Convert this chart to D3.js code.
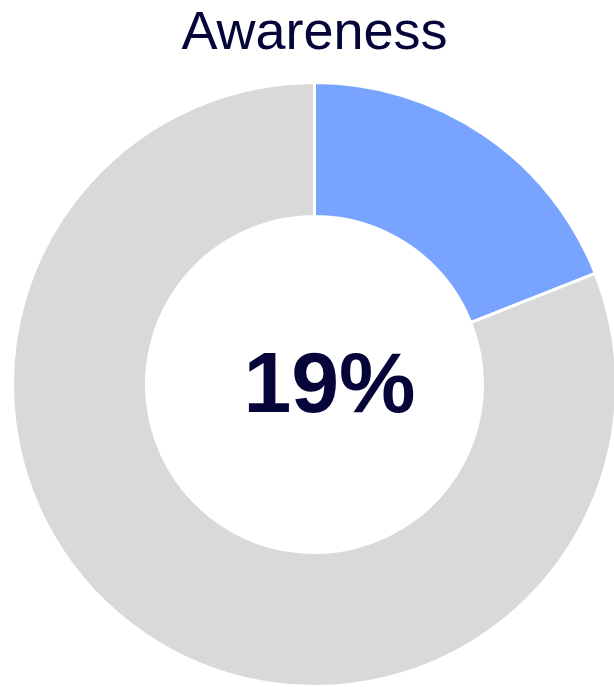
<!DOCTYPE html>
<html>
<head>
<meta charset="utf-8">
<script src="https://cdn.jsdelivr.net/npm/d3@7"></script>
<style>
  html, body { margin: 0; padding: 0; background: #fff; }
  svg { display: block; }
</style>
</head>
<body>
<svg id="chart" width="614" height="687"></svg>
<script>
// Awareness share shown as a donut
const title = "Awareness";
const categories = ["Aware", "Not aware"];
const values = [19, 81];
const colors = ["#78a4ff", "#d9d9d9"];
const centerLabel = "19%";

const svg = d3.select("#chart");
const cx = 314.5, cy = 384.5;
const outerR = 302, innerR = 168;

svg.append("text")
  .attr("x", cx)
  .attr("y", 49)
  .attr("text-anchor", "middle")
  .attr("font-family", "Liberation Sans, Arial, sans-serif")
  .attr("font-size", 54)
  .attr("fill", "#05053a")
  .text(title);

const pie = d3.pie().sort(null).value(d => d.value);
const arc = d3.arc().innerRadius(innerR).outerRadius(outerR);
const data = categories.map((c, i) => ({ name: c, value: values[i] }));

const g = svg.append("g").attr("transform", `translate(${cx},${cy})`);
g.selectAll("path")
  .data(pie(data))
  .join("path")
  .attr("d", arc)
  .attr("fill", (d, i) => colors[i])
  .attr("stroke", "#fff")
  .attr("stroke-width", 3);

// percentage label, set slightly right of centre
svg.append("text")
  .attr("x", 329.5)
  .attr("y", 412)
  .attr("text-anchor", "middle")
  .attr("font-family", "Liberation Sans, Arial, sans-serif")
  .attr("font-weight", "bold")
  .attr("font-size", 86)
  .attr("fill", "#05053a")
  .text(centerLabel);
</script>
</body>
</html>
